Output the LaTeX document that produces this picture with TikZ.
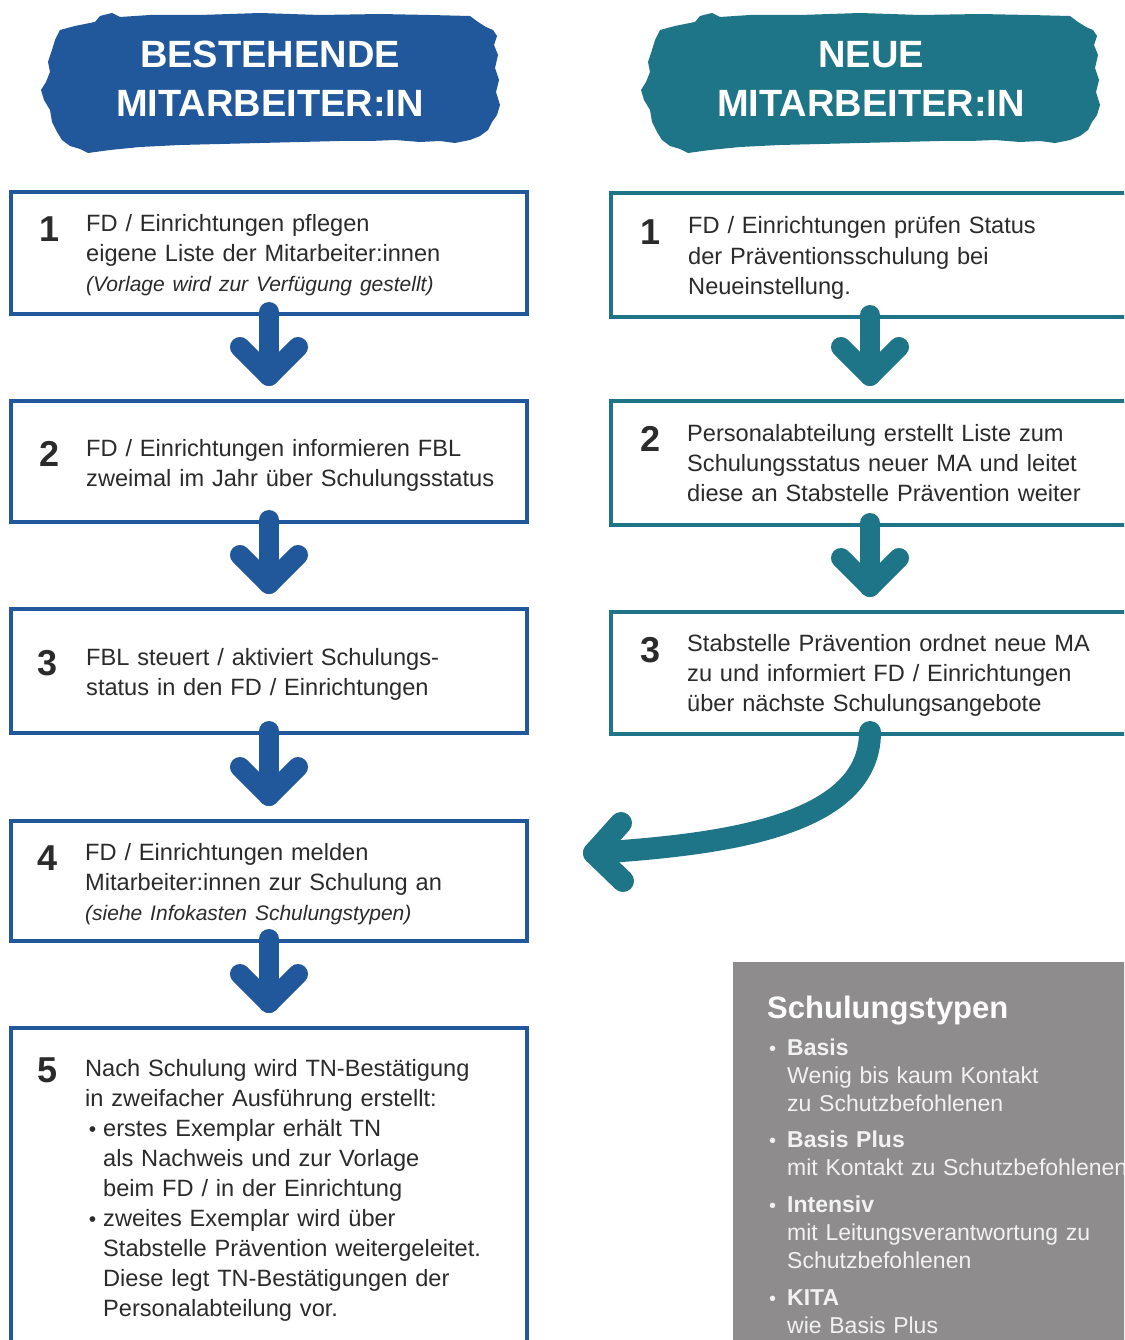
\documentclass[tikz,border=0pt]{standalone}
\usepackage{fontspec}
\setmainfont{Liberation Sans}
\usetikzlibrary{calc}
\definecolor{cblue}{HTML}{21589B}
\definecolor{cteal}{HTML}{1F7588}
\definecolor{cgray}{HTML}{8E8C8D}
\definecolor{ctext}{HTML}{2B2B2B}
\definecolor{cinfo}{HTML}{F2F2F2}

\newcommand\brushshape[1]{%
  \fill[#1] (60,30) -- (75,26) -- (95,22) -- (100,16) -- (112,13) -- (120,17) -- (150,15) -- (200,15)
   -- (260,13) -- (320,15) -- (380,14) -- (430,15) -- (470,16) -- (478,22) -- (486,27) -- (493,30)
   -- (497,36) -- (494,45) -- (498,55) -- (495,68) -- (499,80) -- (496,92) -- (500,105) -- (497,115)
   -- (492,122) -- (488,130) -- (480,136) -- (470,140) -- (455,143) -- (440,141) -- (420,142)
   -- (395,140) -- (370,141) -- (340,141) -- (300,142) -- (260,143) -- (220,144) -- (180,145)
   -- (140,147) -- (110,150) -- (88,153) -- (80,149) -- (70,146) -- (62,140) -- (57,132) -- (52,122)
   -- (50,110) -- (44,100) -- (41,90) -- (46,82) -- (50,72) -- (48,62) -- (52,50) -- (55,40) -- cycle;}

\newcommand\vdarrow[3]{%
  \draw[arw=#3] ($(#1.south)+(0,-2)$) -- ($(#2.north)+(0,-25)$);
  \draw[arw=#3] ($(#2.north)+(-29,-54)$) -- ($(#2.north)+(0,-25)$) -- ($(#2.north)+(29,-54)$);}

\newcommand\bul[2]{\llap{{\fontsize{#1}{20}\selectfont\textbullet}\hspace{#2}}}

\begin{document}
\begin{tikzpicture}[x=1pt,y=-1pt,
  stepbox/.style={draw=#1, line width=4pt, rectangle, inner sep=0pt, outer sep=0pt, anchor=north west, minimum width=516pt},
  body/.style={anchor=base west, inner sep=0pt, align=left, text width=520pt, text=ctext, font=\fontsize{23.6}{30}\selectfont},
  num/.style={anchor=base, inner sep=0pt, text=ctext, font=\bfseries\fontsize{36}{36}\selectfont},
  head/.style={anchor=base, inner sep=0pt, text=white, font=\bfseries\fontsize{38}{38}\selectfont},
  arw/.style={draw=#1, line width=20pt, line cap=round, line join=round},
  info/.style={anchor=base west, inner sep=0pt, align=left, text width=420pt, text=cinfo, font=\fontsize{23}{28}\selectfont}]
\useasboundingbox (0,0) rectangle (1124,1340);
\clip (0,0) rectangle (1124,1340);
\fill[white] (0,0) rectangle (1124,1340);

% headers
\brushshape{cblue}
\begin{scope}[xshift=600pt]
  \brushshape{cteal}
\end{scope}
\node[head] (hl1) at (270,68) {BESTEHENDE};
\node[head] (hl2) at (270,117) {MITARBEITER:IN};
\node[head] (hr1) at (871,68) {NEUE};
\node[head] (hr2) at (871,117) {MITARBEITER:IN};

% left boxes
\node[stepbox=cblue, minimum height=122pt] (b1) at (11,192) {};
\node[stepbox=cblue, minimum height=121pt] (b2) at (11,401) {};
\node[stepbox=cblue, minimum height=124pt] (b3) at (11,609) {};
\node[stepbox=cblue, minimum height=120pt] (b4) at (11,821) {};
\node[stepbox=cblue, minimum height=340pt] (b5) at (11,1028) {};

% right boxes
\node[stepbox=cteal, minimum width=518pt, minimum height=124pt] (r1) at (611,193) {};
\node[stepbox=cteal, minimum width=518pt, minimum height=124pt] (r2) at (611,401) {};
\node[stepbox=cteal, minimum width=518pt, minimum height=122pt] (r3) at (611,612) {};

% left texts
\node[num] (n1) at (50,242) {1};
\node[body] (t1) at (86,232) {FD / Einrichtungen pflegen\\eigene Liste der Mitarbeiter:innen\\{\itshape\fontsize{21}{30}\selectfont (Vorlage wird zur Verfügung gestellt)}};
\node[num] (n2) at (50,466) {2};
\node[body] (t2) at (86,456) {FD / Einrichtungen informieren FBL\\zweimal im Jahr über Schulungsstatus};
\node[num] (n3) at (48,675) {3};
\node[body] (t3) at (86,665) {FBL steuert / aktiviert Schulungs-\\status in den FD / Einrichtungen};
\node[num] (n4) at (48,870) {4};
\node[body] (t4) at (85,860) {FD / Einrichtungen melden\\Mitarbeiter:innen zur Schulung an\\{\itshape\fontsize{21}{30}\selectfont (siehe Infokasten Schulungstypen)}};
\node[num] (n5) at (48,1082) {5};
\node[body] (t5) at (85,1076) {Nach Schulung wird TN-Bestätigung\\in zweifacher Ausführung erstellt:\\
\hspace*{18pt}\bul{21}{7pt}erstes Exemplar erhält TN\\
\hspace*{18pt}als Nachweis und zur Vorlage\\
\hspace*{18pt}beim FD / in der Einrichtung\\
\hspace*{18pt}\bul{21}{7pt}zweites Exemplar wird über\\
\hspace*{18pt}Stabstelle Prävention weitergeleitet.\\
\hspace*{18pt}Diese legt TN-Bestätigungen der\\
\hspace*{18pt}Personalabteilung vor.};

% right texts
\node[num] (m1) at (651,244) {1};
\node[body] (s1) at (688,234) {FD / Einrichtungen prüfen Status\\der Präventionsschulung bei\\Neueinstellung.};
\node[num] (m2) at (651,451) {2};
\node[body] (s2) at (687,441) {Personalabteilung erstellt Liste zum\\Schulungsstatus neuer MA und leitet\\diese an Stabstelle Prävention weiter};
\node[num] (m3) at (651,662) {3};
\node[body] (s3) at (687,651) {Stabstelle Prävention ordnet neue MA\\zu und informiert FD / Einrichtungen\\über nächste Schulungsangebote};

% arrows
\vdarrow{b1}{b2}{cblue}
\vdarrow{b2}{b3}{cblue}
\vdarrow{b3}{b4}{cblue}
\vdarrow{b4}{b5}{cblue}
\vdarrow{r1}{r2}{cteal}
\vdarrow{r2}{r3}{cteal}

\coordinate (ctip) at ($(b4.east)+(67,-28)$);
\draw[arw=cteal, line width=22pt] ($(r3.south)+(0,-2)$) .. controls ($(r3.south)+(0,95)$) and ($(ctip)+(120,-8)$) .. (ctip);
\draw[arw=cteal, line width=22pt] ($(ctip)+(27,-30)$) -- (ctip) -- ($(ctip)+(29,28)$);

% info box
\node[fill=cgray, anchor=north west, inner sep=0pt, outer sep=0pt, minimum width=420pt, minimum height=400pt] (ibox) at (733,962) {};
\node[anchor=base west, inner sep=0pt, text=white, font=\bfseries\fontsize{31}{31}\selectfont] (ititle) at (767,1018) {Schulungstypen};
\node[info] (i1) at (787,1055) {\bul{20}{11pt}\textbf{Basis}\\Wenig bis kaum Kontakt\\zu Schutzbefohlenen};
\node[info] (i2) at (787,1147) {\bul{20}{11pt}\textbf{Basis Plus}\\mit Kontakt zu Schutzbefohlenen};
\node[info] (i3) at (787,1212) {\bul{20}{11pt}\textbf{Intensiv}\\mit Leitungsverantwortung zu\\Schutzbefohlenen};
\node[info] (i4) at (787,1305) {\bul{20}{11pt}\textbf{KITA}\\wie Basis Plus};
\end{tikzpicture}
\end{document}
